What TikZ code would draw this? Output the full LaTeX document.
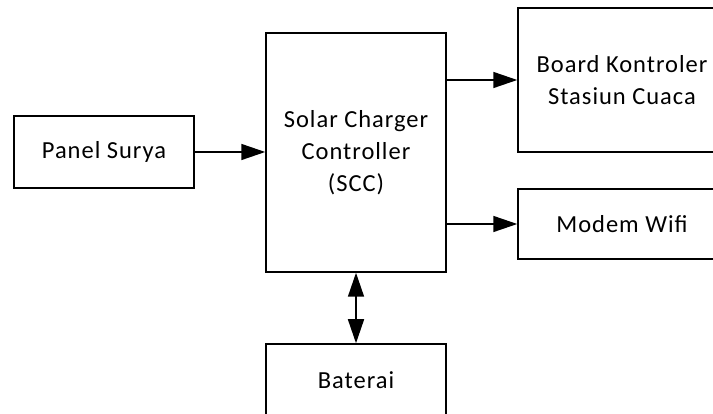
\documentclass[tikz,border=0pt]{standalone}
\usepackage{fontspec}
\setmainfont[LetterSpace=4]{Carlito}
\usetikzlibrary{arrows.meta}
\begin{document}
\begin{tikzpicture}[x=1pt,y=-1pt,
  blk/.style={draw=black,line width=1.5pt,fill=white,align=center,inner sep=0pt,
    font=\fontsize{24.5}{32}\selectfont},
  arr/.style={line width=1.5pt,-{Triangle[length=24pt,width=16pt]}},
  darr/.style={line width=1.5pt,{Triangle[length=24pt,width=16pt]}-{Triangle[length=24pt,width=16pt]}}]
\useasboundingbox (0,0) rectangle (713,414);
\clip (0,0) rectangle (713,414);
\fill[white] (0,0) rectangle (713,414);
\node[blk,minimum width=180pt,minimum height=72pt] (panel) at (104,152) {Panel Surya};
\node[blk,minimum width=180pt,minimum height=239pt] (scc) at (356,152.5) {Solar Charger\\Controller\\(SCC)};
\node[blk,minimum width=208pt,minimum height=144pt] (board) at (622,80) {Board Kontroler\\Stasiun Cuaca};
\node[blk,minimum width=208pt,minimum height=70pt] (modem) at (622,224) {Modem Wifi};
\node[blk,minimum width=180pt,minimum height=72pt] (bat) at (356,380) {Baterai};
\draw[arr] (panel.east) -- (panel.east -| scc.west);
\draw[arr] (scc.east |- board.west) -- (board.west);
\draw[arr] (scc.east |- modem.west) -- (modem.west);
\draw[darr] (scc.south) -- (bat.north);
\end{tikzpicture}
\end{document}
